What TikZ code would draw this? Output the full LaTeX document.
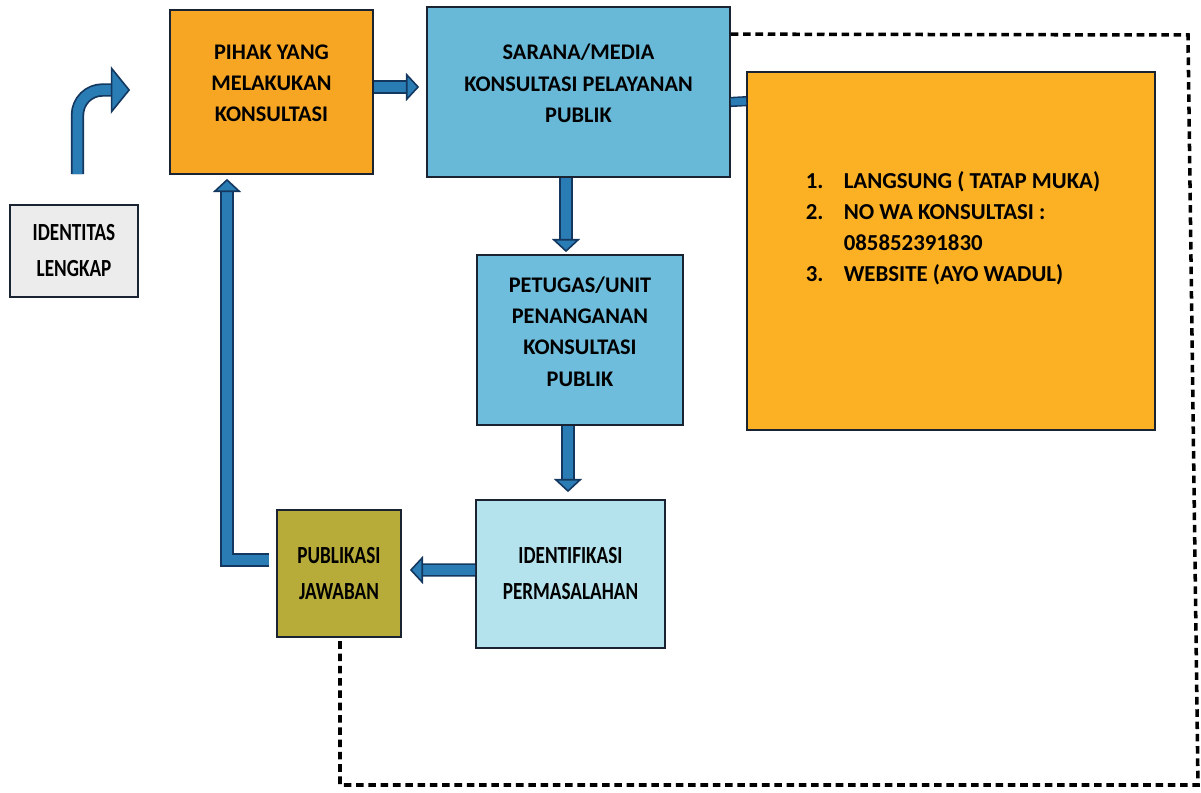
\documentclass[tikz,border=0pt]{standalone}
\usepackage{fontspec}
\setmainfont{Carlito}
\newfontfamily\narrowfont[FakeStretch=0.78]{Carlito}
\usetikzlibrary{positioning, arrows.meta}

\definecolor{boxline}{RGB}{25,35,50}
\definecolor{idgray}{RGB}{236,236,236}
\definecolor{pihakorange}{RGB}{247,166,35}
\definecolor{mediaorange}{RGB}{252,176,36}
\definecolor{saranablue}{RGB}{104,184,216}
\definecolor{petugasblue}{RGB}{110,189,220}
\definecolor{identcyan}{RGB}{180,227,237}
\definecolor{publolive}{RGB}{183,171,58}
\definecolor{flowblue}{RGB}{42,124,180}
\definecolor{flowdark}{RGB}{20,55,95}

\tikzset{
  box/.style={draw=boxline, line width=1pt, align=center, inner sep=2pt,
    font=\bfseries\fontsize{12.7}{17.8}\selectfont},
  narrowbox/.style={box, font=\narrowfont\bfseries\fontsize{14}{20.5}\selectfont},
  flow/.style={draw=flowblue, line width=5.6pt,
    -{Triangle[length=7.5pt, width=16pt, color=flowdark, fill=flowblue, line width=0.9pt]},
    preaction={draw=flowdark, line width=7.6pt, -, shorten >=6.5pt}},
  bentflow/.style={flow,
    -{Triangle[length=11pt, width=27pt, color=flowdark, fill=flowblue, line width=0.9pt]}},
  link/.style={draw=flowblue, line width=4pt, preaction={draw=flowdark, line width=5.8pt}},
  dashline/.style={draw=black, line width=2pt, dash pattern=on 4.3pt off 2.7pt},
}

\begin{document}
\begin{tikzpicture}[x=0.02cm, y=0.02cm]
\useasboundingbox (0,0) rectangle (1201,792);

% boxes
\node[narrowbox, fill=idgray, minimum width=2.56cm, minimum height=1.84cm] (ident) at (74,541) {IDENTITAS\\LENGKAP};
\node[box, fill=pihakorange, minimum width=4.06cm, minimum height=3.28cm] (pihak) at (271.5,700) {PIHAK YANG\\MELAKUKAN\\KONSULTASI\\[-8pt]\mbox{}};
\node[box, fill=saranablue, minimum width=6.06cm, minimum height=3.4cm] (sarana) at (578.5,700) {SARANA/MEDIA\\KONSULTASI PELAYANAN\\PUBLIK\\[-8pt]\mbox{}};
\node[box, fill=mediaorange, minimum width=8.16cm, minimum height=7.16cm] (media) at (951,541) {};
\node[align=left, font=\bfseries\fontsize{13}{17.6}\selectfont] (medialist) at ([shift={(2,23)}]media.center)
  {\makebox[21.6pt][l]{1.}LANGSUNG ( TATAP MUKA)\\
   \makebox[21.6pt][l]{2.}NO WA KONSULTASI :\\
   \hspace*{21.6pt}085852391830\\
   \makebox[21.6pt][l]{3.}WEBSITE (AYO WADUL)};
\node[box, fill=petugasblue, minimum width=4.12cm, minimum height=3.4cm] (petugas) at (580,452) {PETUGAS/UNIT\\PENANGANAN\\KONSULTASI\\PUBLIK\\[-8pt]\mbox{}};
\node[narrowbox, fill=identcyan, minimum width=3.78cm, minimum height=2.96cm] (identif) at (570.5,218) {IDENTIFIKASI\\PERMASALAHAN};
\node[narrowbox, fill=publolive, minimum width=2.48cm, minimum height=2.54cm] (publ) at (339,218.5) {PUBLIKASI\\JAWABAN};

% arrows
\draw[bentflow, rounded corners=0.5cm] ([shift={(3.5,30)}]ident.north) |- ([shift={(-39,2)}]pihak.west);
\draw[flow] ([shift={(0,5)}]pihak.east) -- ([shift={(-7,5)}]sarana.west);
\draw[link] ([shift={(0,-10)}]sarana.east) -- ([shift={(0,-30)}]media.north west);
\draw[flow] ([shift={(-12.5,0)}]sarana.south) -- ([shift={(-14,2)}]petugas.north);
\draw[flow] ([shift={(-12,0)}]petugas.south) -- ([shift={(-2.5,7)}]identif.north);
\draw[flow] ([shift={(0,4)}]identif.west) -- ([shift={(8,3.5)}]publ.east);
\draw[flow] ([shift={(-7,13.5)}]publ.west) -| ([shift={(-44.5,-4)}]pihak.south);

% dashed frame
\coordinate (dashtop) at (1188,757);
\coordinate (dashbottom) at (1198,7);
\draw[dashline] ([shift={(0,-28)}]sarana.north east) -- (dashtop) -- (dashbottom) -| ([shift={(1,-3)}]publ.south);
\end{tikzpicture}
\end{document}
